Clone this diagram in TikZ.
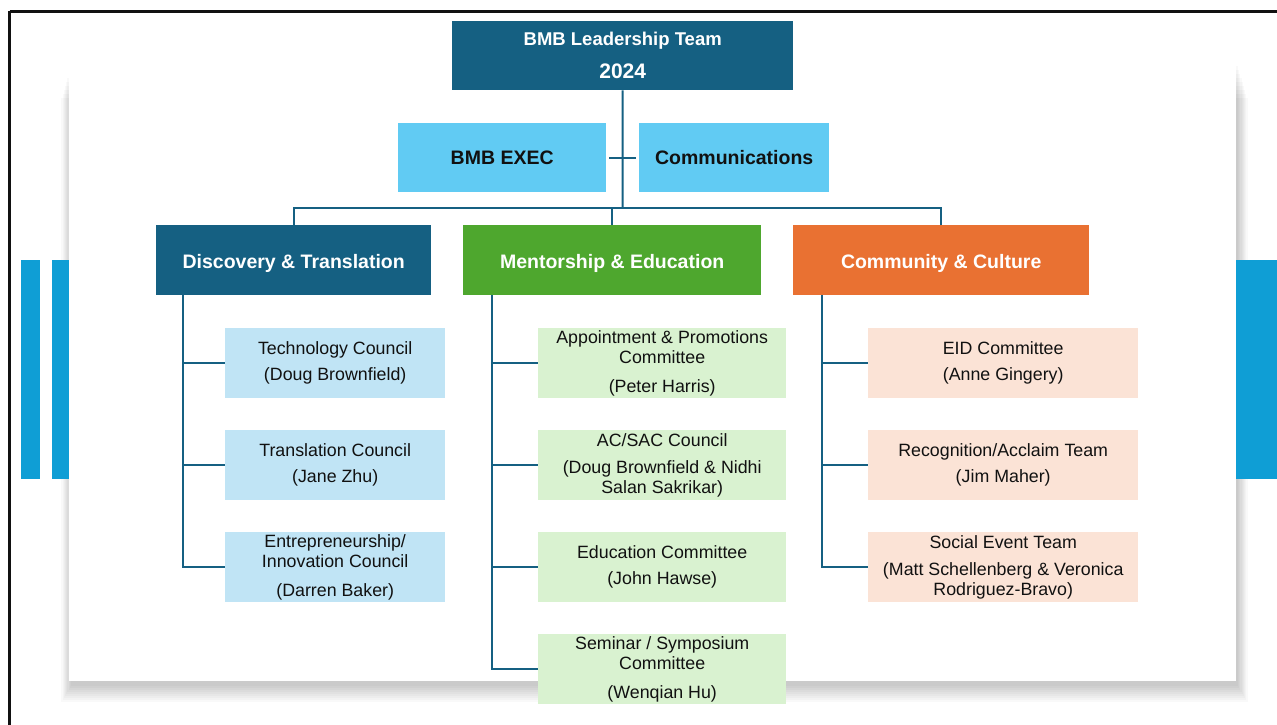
\documentclass[tikz,border=0pt]{standalone}
\usepackage{fontspec}
\setmainfont{Liberation Sans}
\definecolor{dark}{HTML}{156082}
\definecolor{cyanbox}{HTML}{61CBF3}
\definecolor{greenh}{HTML}{4EA72E}
\definecolor{orangeh}{HTML}{E97132}
\definecolor{lblue}{HTML}{C0E4F5}
\definecolor{lgreen}{HTML}{D9F2D0}
\definecolor{lorange}{HTML}{FBE3D6}
\definecolor{barblue}{HTML}{0F9ED5}
\definecolor{frame}{HTML}{111111}
\definecolor{txt}{HTML}{111111}
\newcommand{\lowr}[1]{\raisebox{-3pt}[\height][\depth]{#1}}
\begin{document}
\begin{tikzpicture}[x=1pt,y=-1pt,
  base/.style={rectangle, inner sep=0pt, align=center, anchor=north west},
  headbox/.style={base, fill=dark, text=white, font=\bfseries\fontsize{18.5}{22}\selectfont},
  execbox/.style={base, fill=cyanbox, text=txt, minimum width=208pt, minimum height=69pt, font=\bfseries\fontsize{19.5}{22}\selectfont},
  grpbox/.style={base, text=white, minimum height=70pt, font=\bfseries\fontsize{19.5}{22}\selectfont},
  leaf/.style={base, text=txt, minimum height=70pt, font=\fontsize{17.8}{20}\selectfont},
  lleaf/.style={leaf, fill=lblue, minimum width=220pt},
  mleaf/.style={leaf, fill=lgreen, minimum width=248pt},
  rleaf/.style={leaf, fill=lorange, minimum width=270pt},
  conn/.style={draw=dark, line width=2pt}
]
\useasboundingbox (0,0) rectangle (1277,725);
\fill[white] (0,0) rectangle (1277,725);
% frame
\draw[frame, line width=3pt] (9.5,11.5) -- (1290,11.5);
\draw[frame, line width=3pt] (9.5,11.5) -- (9.5,740);
% card shadow
\foreach \i in {16,14,...,0}{
  \fill[black, fill opacity=0.024] (71-0.6*\i,66+2*\i) rectangle (1238+0.6*\i,686+\i);
}
% side bars
\fill[barblue] (20.5,260) rectangle (39.5,479);
\fill[barblue] (52,260) rectangle (69,479);
\fill[barblue] (1236,260) rectangle (1277,479);
% card
\fill[white] (69,66) rectangle (1236,681);

% top
\node[headbox, minimum width=341pt, minimum height=69pt] (top) at (452,21)
  {BMB Leadership Team\\[11pt]{\fontsize{21}{22}\selectfont 2024}};
\node[execbox] (exec) at (398,123) {BMB EXEC};
\node[execbox, minimum width=190pt] (commu) at (639,123) {Communications};

% groups
\node[grpbox, fill=dark, minimum width=275pt] (disc) at (156,225) {\lowr{Discovery \& Translation}};
\node[grpbox, fill=greenh, minimum width=298pt] (ment) at (463,225) {\lowr{Mentorship \& Education}};
\node[grpbox, fill=orangeh, minimum width=296pt] (comm) at (793,225) {\lowr{Community \& Culture}};

% left leaves
\node[lleaf] (l1) at (225,328) {Technology Council\\[6pt](Doug Brownfield)};
\node[lleaf] (l2) at (225,430) {Translation Council\\[6pt](Jane Zhu)};
\node[lleaf] (l3) at (225,532) {Entrepreneurship/\\Innovation Council\\[9pt](Darren Baker)};

% middle leaves
\node[mleaf] (m1) at (538,328) {Appointment \& Promotions\\Committee\\[9pt](Peter Harris)};
\node[mleaf] (m2) at (538,430) {AC/SAC Council\\[7pt](Doug Brownfield \& Nidhi\\Salan Sakrikar)};
\node[mleaf] (m3) at (538,532) {Education Committee\\[6pt](John Hawse)};
\node[mleaf] (m4) at (538,634) {Seminar / Symposium\\Committee\\[9pt](Wenqian Hu)};

% right leaves
\node[rleaf] (r1) at (868,328) {EID Committee\\[6pt](Anne Gingery)};
\node[rleaf] (r2) at (868,430) {Recognition/Acclaim Team\\[6pt](Jim Maher)};
\node[rleaf] (r3) at (868,532) {Social Event Team\\[7pt](Matt Schellenberg \& Veronica\\Rodriguez-Bravo)};

% top connectors
\coordinate (bus) at (622.5,208);
\draw[conn] (top.south) -- (bus);
\draw[conn] (disc.north) |- (bus) -| (comm.north);
\draw[conn] (ment.north) -- (ment.north |- bus);
\draw[conn] ([xshift=3pt]exec.east) -- ([xshift=-3pt]commu.west);

% trunks
\coordinate (tl) at (183,295);
\coordinate (tm) at (492,295);
\coordinate (tr) at (822,295);
\foreach \n in {l1,l2,l3}{ \draw[conn] (tl) |- (\n.west); }
\foreach \n in {m1,m2,m3,m4}{ \draw[conn] (tm) |- (\n.west); }
\foreach \n in {r1,r2,r3}{ \draw[conn] (tr) |- (\n.west); }
\end{tikzpicture}
\end{document}
